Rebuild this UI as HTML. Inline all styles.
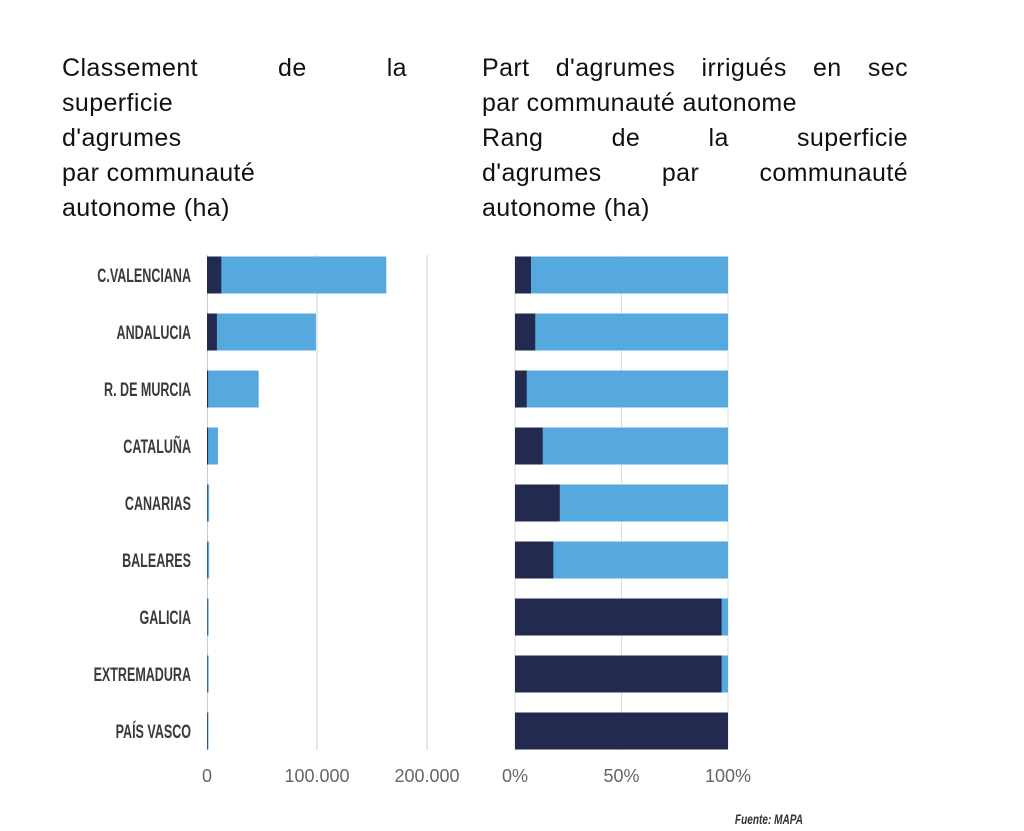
<!DOCTYPE html>
<html><head><meta charset="utf-8">
<style>
body{margin:0;background:#fff;width:1024px;height:831px;overflow:hidden;position:relative;font-family:"Liberation Sans",sans-serif}
.t{position:absolute;font-size:25px;color:#111;line-height:35px;white-space:nowrap;letter-spacing:0.4px}
.j{text-align:justify;text-align-last:justify;white-space:normal}
svg{position:absolute;left:0;top:0}
</style></head>
<body>
<div class="t j" style="left:62px;top:51px;width:345px">Classement de la</div>
<div class="t" style="left:62px;top:86px">superficie</div>
<div class="t" style="left:62px;top:121px">d'agrumes</div>
<div class="t" style="left:62px;top:156px">par communauté</div>
<div class="t" style="left:62px;top:191px">autonome (ha)</div>

<div class="t j" style="left:482px;top:51px;width:426px">Part d'agrumes irrigués en sec</div>
<div class="t" style="left:482px;top:86px">par communauté autonome</div>
<div class="t j" style="left:482px;top:121px;width:426px">Rang de la superficie</div>
<div class="t j" style="left:482px;top:156px;width:426px">d'agrumes par communauté</div>
<div class="t" style="left:482px;top:191px">autonome (ha)</div>

<svg id="chart" width="1024" height="831"></svg>
<script>
const categories=["C.VALENCIANA","ANDALUCIA","R. DE MURCIA","CATALUÑA","CANARIAS","BALEARES","GALICIA","EXTREMADURA","PAÍS VASCO"];
const totalHa=[163000,99000,47000,10000,2000,2000,1500,1500,600];
const secHa=[13000,9000,1000,1000,500,500,100,100,600];
const secShare=[7.5,9.5,5.5,13,21,18,97,97,100];
const leftTicks=[0,100000,200000];
const leftTickLabels=["0","100.000","200.000"];
const rightTicks=[0,50,100];
const rightTickLabels=["0%","50%","100%"];

const NS="http://www.w3.org/2000/svg";
const svg=document.getElementById("chart");
const DARK="#232a50",BLUE="#55a9df";
const xL=v=>207+v*0.0011;
const xR=v=>515+v*2.13;
const yC=i=>275+i*57.0;
const BH=37;
function mk(tag,attrs){const e=document.createElementNS(NS,tag);for(const k in attrs)e.setAttribute(k,attrs[k]);svg.appendChild(e);return e;}

leftTicks.forEach((t,i)=>{
  if(i>0){const g=mk("line",{x1:xL(t),x2:xL(t),y1:255,y2:750,stroke:"#ccc","stroke-width":1});
  
  }
  const tx=mk("text",{x:xL(t),y:782,"text-anchor":"middle","font-size":18,fill:"#666","font-family":"Liberation Sans, sans-serif"});
  tx.textContent=leftTickLabels[i];
  
  
});
rightTicks.forEach((t,i)=>{
  if(i>0){const g=mk("line",{x1:xR(t),x2:xR(t),y1:255,y2:750,stroke:"#ddd","stroke-width":1});
  
  }
  const tx=mk("text",{x:xR(t),y:782,"text-anchor":"middle","font-size":18,fill:"#666","font-family":"Liberation Sans, sans-serif"});
  tx.textContent=rightTickLabels[i];
  
  
});
const a1=mk("line",{x1:207.5,x2:207.5,y1:255,y2:750,stroke:"#ccc","stroke-width":1});


const a2=mk("line",{x1:515,x2:515,y1:255,y2:750,stroke:"#ddd","stroke-width":1});



categories.forEach((c,i)=>{
  const y=yC(i)-BH/2;
  const lb=mk("text",{x:0,y:0,"text-anchor":"end","font-size":19,"font-weight":"bold",fill:"#3a3a3a","font-family":"Liberation Sans, sans-serif",transform:`translate(191,${yC(i)+7}) scale(0.66,1)`});
  lb.textContent=c;
  
  
  const b1=mk("rect",{x:xL(0),y:y,width:Math.max(1.5,xL(totalHa[i])-xL(0)),height:BH,fill:BLUE});
  
  
  const b2=mk("rect",{x:xL(0),y:y,width:Math.max(0.5,xL(secHa[i])-xL(0)),height:BH,fill:DARK});
  
  
  const r1=mk("rect",{x:xR(0),y:y,width:xR(100)-xR(0),height:BH,fill:BLUE});
  
  
  const r2=mk("rect",{x:xR(0),y:y,width:xR(secShare[i])-xR(0),height:BH,fill:DARK});
  
  
});
const src=mk("text",{x:0,y:0,"text-anchor":"end","font-size":14,"font-weight":"bold",fill:"#333","font-style":"italic","font-family":"Liberation Sans, sans-serif",transform:"translate(803,824) scale(0.72,1)"});
src.textContent="Fuente: MAPA";


</script>
</body></html>
